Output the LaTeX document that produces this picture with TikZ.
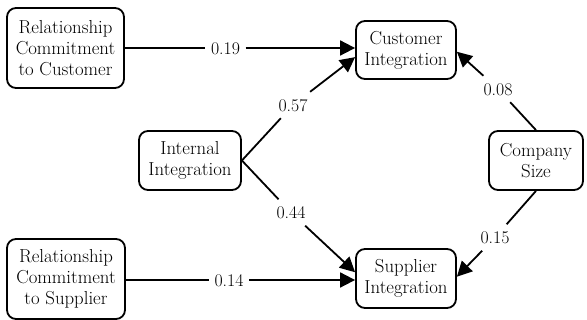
\documentclass[tikz,border=0pt]{standalone}
\usepackage{fontspec}
\usetikzlibrary{arrows.meta}
\begin{document}
\begin{tikzpicture}[x=1pt,y=-1pt,
  box/.style={draw, line width=1.8pt, rounded corners=9pt, align=center,
    font=\rmfamily\fontsize{18.8}{21}\selectfont, inner sep=0pt},
  lab/.style={font=\rmfamily\fontsize{17.8}{20}\selectfont, fill=white, inner xsep=5.5pt,
    inner ysep=6.5pt, text height=13pt, text depth=0pt},
  conn/.style={line width=1.8pt},
  arr/.style={conn, -{Triangle[length=15pt,width=15pt]}}]
\useasboundingbox (0,0) rectangle (587,320);
% boxes
\node[box, minimum width=117pt, minimum height=80pt] (rcc) at (65.5,48) {Relationship\\Commitment\\to Customer};
\node[box, minimum width=118pt, minimum height=80pt] (rcs) at (66,279) {Relationship\\Commitment\\to Supplier};
\node[box, minimum width=102pt, minimum height=59pt] (ii) at (190,160.5) {Internal\\Integration};
\node[box, minimum width=100pt, minimum height=58pt] (ci) at (406,50) {Customer\\Integration};
\node[box, minimum width=100pt, minimum height=59pt] (si) at (406,278.5) {Supplier\\Integration};
\node[box, minimum width=94pt, minimum height=59pt] (cs) at (536,160.5) {Company\\Size};
% labels
\node[lab] (l19) at (225.5,48) {0.19};
\node[lab] (l14) at (229,280) {0.14};
\node[lab] (l57) at (293,105) {0.57};
\node[lab] (l44) at (291,212.5) {0.44};
\node[lab] (l08) at (498,89) {0.08};
\node[lab] (l15) at (495,237.5) {0.15};
% connectors
\draw[conn] (rcc.east |- l19) -- (l19);
\draw[arr] (l19) -- (l19 -| ci.west);
\draw[conn] (rcs.east |- l14) -- (l14);
\draw[arr] (l14) -- (l14 -| si.west);
\draw[conn] (ii.east) -- (l57);
\draw[arr] (l57) -- (ci.188);
\draw[conn] (ii.east) -- (l44);
\draw[arr] (l44) -- (si.173);
\draw[conn] (cs.north) -- (l08);
\draw[arr] (l08) -- (ci.-2);
\draw[conn] (cs.south) -- (l15);
\draw[arr] (l15) -- (si.2);
\end{tikzpicture}
\end{document}
